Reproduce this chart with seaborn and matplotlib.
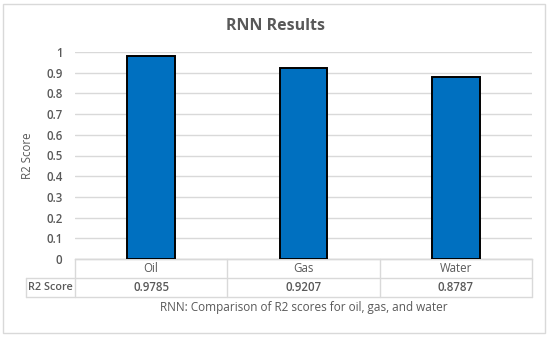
import seaborn as sns
import numpy as np
import pandas as pd
import matplotlib.pyplot as plt
from matplotlib.patches import Rectangle

categories = ['Oil', 'Gas', 'Water']
r2_scores = [0.9785, 0.9207, 0.8787]
score_labels = ['0.9785', '0.9207', '0.8787']
yticks = [0, 0.1, 0.2, 0.3, 0.4, 0.5, 0.6, 0.7, 0.8, 0.9, 1]
ytick_labels = ['0', '0.1', '0.2', '0.3', '0.4', '0.5', '0.6', '0.7', '0.8', '0.9', '1']

sns.set_style('white')
plt.rcParams['font.family'] = ['Open Sans', 'DejaVu Sans']

text_color = '#595959'
grid_color = '#D9D9D9'

df = pd.DataFrame({'Category': categories, 'R2 Score': r2_scores})

fig = plt.figure(figsize=(5.5, 3.37), dpi=100)
ax = fig.add_axes([75 / 550, 1 - 259 / 337, 457 / 550, 207 / 337])

sns.barplot(data=df, x='Category', y='R2 Score', color='#0070C0', saturation=1,
            edgecolor='black', linewidth=1.4, width=0.315, ax=ax, zorder=3)

ax.set_xlim(-0.5, 2.5)
ax.set_ylim(0, 1)
ax.set_yticks(yticks)
ax.set_yticklabels(ytick_labels, fontsize=8.3, color=text_color, fontweight='semibold')
ax.set_xticks([])
ax.set_xlabel('')
ax.set_ylabel('R2 Score', fontsize=8.3, color=text_color, labelpad=9)
ax.tick_params(axis='y', length=0, pad=9)
ax.yaxis.grid(True, color=grid_color, linewidth=1)
ax.set_axisbelow(True)
for side in ['left', 'right', 'top']:
    ax.spines[side].set_visible(False)
ax.spines['bottom'].set_color(grid_color)
ax.spines['bottom'].set_linewidth(1)

# data table under the chart (Excel style)
tr = ax.get_xaxis_transform()
row_h = 19 / 207
label_left = -0.5 - 49 / 152.3
line_kw = dict(color=grid_color, linewidth=1, transform=tr, clip_on=False)
ax.plot([-0.5, 2.5], [0, 0], **line_kw)
ax.plot([label_left, 2.5], [-row_h, -row_h], **line_kw)
ax.plot([label_left, 2.5], [-2 * row_h, -2 * row_h], **line_kw)
ax.plot([label_left, label_left], [-row_h, -2 * row_h], **line_kw)
for xb in [-0.5, 0.5, 1.5, 2.5]:
    ax.plot([xb, xb], [0, -2 * row_h], **line_kw)

for i, (cat, lab) in enumerate(zip(categories, score_labels)):
    ax.text(i, -row_h / 2, cat, transform=tr, ha='center', va='center',
            fontsize=8.3, color=text_color)
    ax.text(i, -1.5 * row_h, lab, transform=tr, ha='center', va='center',
            fontsize=8.3, color=text_color, fontweight='semibold')
ax.text((label_left - 0.5) / 2, -1.5 * row_h, 'R2 Score', transform=tr,
        ha='center', va='center', fontsize=7.8, color=text_color, fontweight='semibold')

ax.text(1, -0.232, 'RNN: Comparison of R2 scores for oil, gas, and water', transform=tr,
        ha='center', va='center', fontsize=8.5, color=text_color)

fig.text(0.5, 1 - 26 / 337, 'RNN Results', ha='center', va='center',
         fontsize=11.5, fontweight='bold', color=text_color)

fig.patches.append(Rectangle((3 / 550, 4 / 337), 542 / 550, 329 / 337, transform=fig.transFigure,
                             fill=False, edgecolor=grid_color, linewidth=1))

fig.savefig('out.png', dpi=100)
